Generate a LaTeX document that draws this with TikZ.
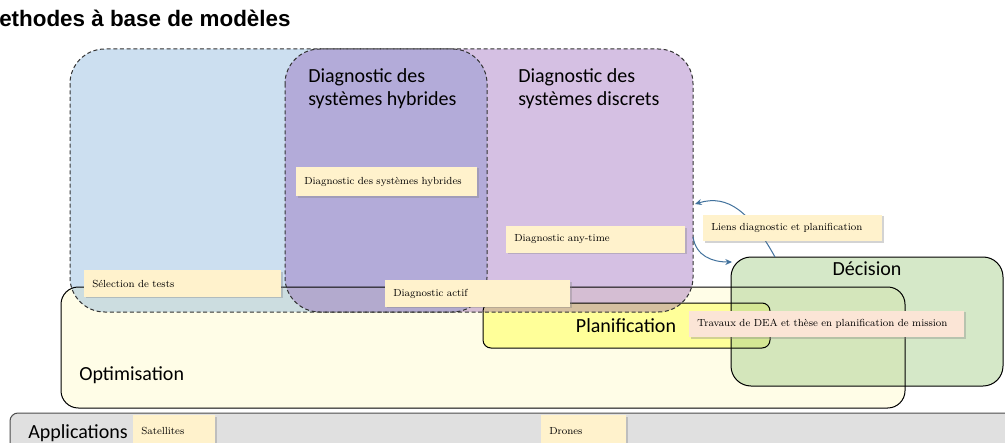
\documentclass[tikz,border=0pt]{standalone}
\usepackage{fontspec}
\newfontfamily\calib{Carlito}
\newfontfamily\titref{Liberation Sans}
\usetikzlibrary{shadows,arrows.meta}

\definecolor{optim}{RGB}{255,253,231}
\definecolor{planif}{RGB}{255,255,153}
\definecolor{decis}{RGB}{171,209,145}
\definecolor{diagbleu}{RGB}{109,164,212}
\definecolor{diagviolet}{RGB}{135,75,175}
\definecolor{appli}{RGB}{224,224,224}
\definecolor{lblfond}{RGB}{255,242,204}
\definecolor{lblrose}{RGB}{251,229,214}
\definecolor{lienbleu}{RGB}{65,113,156}

\begin{document}
\begin{tikzpicture}[x=0.75pt,y=-0.75pt,
  zone/.style={draw=black, line width=0.75pt},
  pointille/.style={draw=black!80, line width=0.75pt, dash pattern=on 3pt off 2pt},
  grand/.style={font=\calib\fontsize{15}{17.25}\selectfont, inner sep=0pt},
  lbl/.style={fill=lblfond, anchor=west, inner xsep=6pt, inner ysep=0pt,
    minimum height=20pt, align=left, font=\fontsize{7.7}{9}\selectfont,
    drop shadow={shadow xshift=1.2pt, shadow yshift=-1.2pt, opacity=0.35}},
  lien/.style={draw=lienbleu, line width=0.75pt, -{Stealth[length=5pt,width=4.5pt]}}]
\useasboundingbox (0,0) rectangle (1005,442);
\clip (0,0) rectangle (1005,442);

% Titre
\node[anchor=base west, inner sep=0pt, font=\titref\bfseries\fontsize{16.8}{19}\selectfont] (titre) at (-1,27) {ethodes à base de modèles};

% Zones : remplissages
\fill[optim, rounded corners=13pt] (61,287) rectangle (905,408);
\fill[planif, rounded corners=6pt] (483,303) rectangle (770,348);
\fill[decis, fill opacity=0.5, rounded corners=15pt] (731,257) rectangle (1003,386);
\fill[diagbleu, fill opacity=0.35, rounded corners=26pt] (70,49) rectangle (487,312);
\fill[diagviolet, fill opacity=0.35, rounded corners=26pt] (285,49) rectangle (693,312);
\fill[appli, rounded corners=6pt] (10,413) rectangle (1020,470);

% Zones : contours
\draw[zone, rounded corners=13pt] (61,287) rectangle (905,408);
\draw[zone, rounded corners=6pt] (483,303) rectangle (770,348);
\draw[zone, rounded corners=15pt] (731,257) rectangle (1003,386);
\draw[pointille, rounded corners=26pt] (70,49) rectangle (487,312);
\draw[pointille, rounded corners=26pt] (285,49) rectangle (693,312);
\draw[draw=black!70, line width=0.75pt, rounded corners=6pt] (10,413) rectangle (1020,470);

% Titres des zones
\node[grand, anchor=north west, align=left] (hybrides) at (308,68) {Diagnostic des\\systèmes hybrides};
\node[grand, anchor=north west, align=left] (discrets) at (518,68) {Diagnostic des\\systèmes discrets};
\node[grand, anchor=base west] (optimisation) at (79,380) {Optimisation};
\node[grand, anchor=base] (planification) at (626,332) {Planification};
\node[grand, anchor=base] (decision) at (867,275) {Décision};
\node[grand, anchor=base west] (applications) at (28,438) {Applications};

% Liens diagnostic / decision
\coordinate (decHaut) at (775,257);
\coordinate (discHaut) at (695,204);
\coordinate (discBas) at (693,237);
\coordinate (decGauche) at (732,262);
\draw[lien] (decHaut) .. controls (750,212) and (728,194) .. (discHaut);
\draw[lien] (discBas) .. controls (696,256) and (712,262) .. (decGauche);

% Etiquettes
\node[lbl, minimum height=22pt, text width=123.75pt] (eHybrides) at (296,181.5) {Diagnostic des systèmes hybrides};
\node[lbl, text width=122.25pt] (eAnytime) at (506,239.5) {Diagnostic any-time};
\node[lbl, text width=122.25pt] (eLiens) at (703,228) {Liens diagnostic et planification};
\node[lbl, text width=135.75pt] (eSelection) at (84,283.5) {Sélection de tests};
\node[lbl, text width=126.75pt] (eActif) at (385,293.5) {Diagnostic actif};
\node[lbl, fill=lblrose, drop shadow={opacity=0}, text width=194.25pt] (eTravaux) at (689,324) {Travaux de DEA et thèse en planification de mission};
\node[lbl, minimum height=24pt, text width=49.5pt] (eSatellites) at (133,431) {Satellites};
\node[lbl, minimum height=24pt, text width=51.75pt] (eDrones) at (541,431) {Drones};
\end{tikzpicture}
\end{document}
